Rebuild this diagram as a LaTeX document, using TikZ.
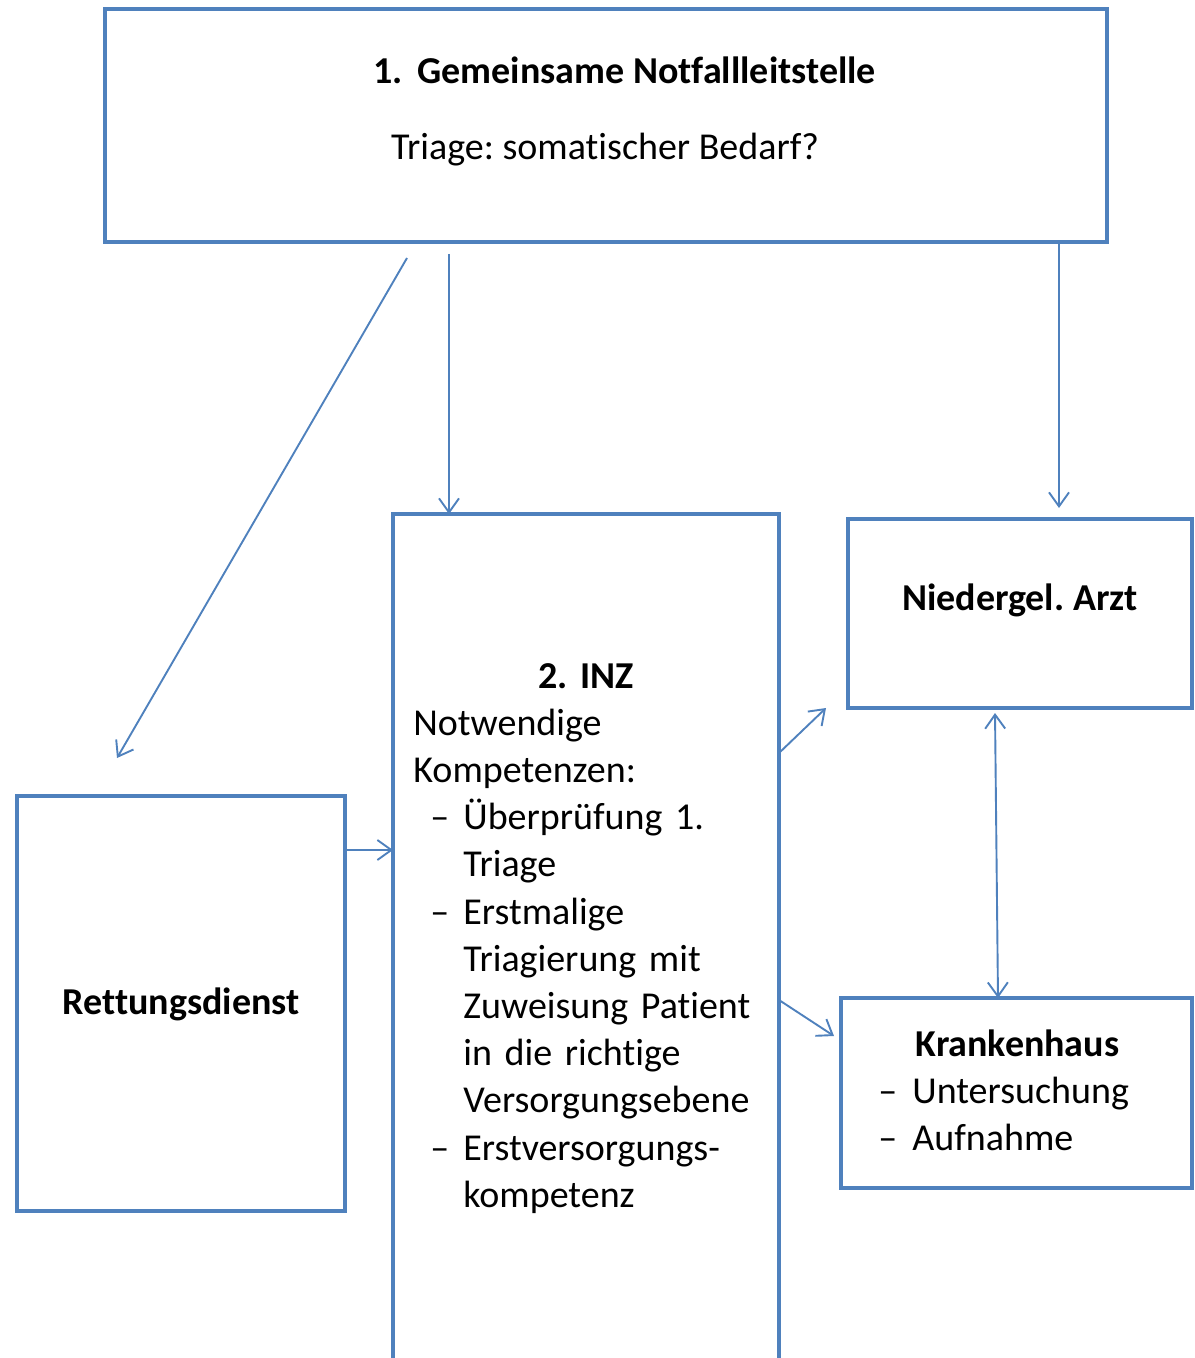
\documentclass[tikz,border=0pt]{standalone}
\usepackage{fontspec}
\setmainfont{Carlito}[RawFeature={-liga;-clig;-calt;-dlig}]
\usetikzlibrary{arrows.meta}
\definecolor{boxblue}{HTML}{4F81BD}
\frenchspacing

\begin{document}
\begin{tikzpicture}[x=0.5pt,y=-0.5pt,
>={Straight Barb[length=7pt,width=10pt]},
box/.style={draw=boxblue,rectangle,line width=2.3pt,inner sep=0pt,outer sep=0pt},
conn/.style={draw=boxblue,line width=0.95pt,->},
txt/.style={font=\fontsize{19}{23.6}\selectfont,inner sep=0pt}]
\useasboundingbox (0,0) rectangle (1194,1358);

% boxes
\node (leit) [box,minimum width=501pt,minimum height=116.5pt] at (606,125.5) {};
\node (inz) [box,minimum width=193pt,minimum height=428pt] at (586,942) {};
\node (arzt) [box,minimum width=172pt,minimum height=94.5pt] at (1020,613.5) {};
\node (kh) [box,minimum width=175.5pt,minimum height=95pt] at (1016.5,1093) {};
\node (rett) [box,minimum width=164pt,minimum height=207.5pt] at (181,1003.5) {};

% texts
\node (leittitle) [txt,anchor=base west] at (373,84)
    {\textbf{\makebox[22pt][l]{1.}Gemeinsame Notfallleitstelle}};
\node (leittriage) [txt,anchor=base] at (605,160) {Triage: somatischer Bedarf?};
\node (arzttext) [txt,anchor=base] at (1020,610) {\textbf{Niedergel. Arzt}};
\node (retttext) [txt,anchor=base] at (181,1014) {\textbf{Rettungsdienst}};
\node (inztext) [txt,anchor=base west,text width=173pt,align=left] at (413,688) {%
    \makebox[\linewidth]{\textbf{2. INZ}}\\
    Notwendige\\
    Kompetenzen:\\
    \hspace*{8.5pt}\makebox[16.5pt][l]{–}Überprüfung 1.\\
    \hspace*{25pt}Triage\\
    \hspace*{8.5pt}\makebox[16.5pt][l]{–}Erstmalige\\
    \hspace*{25pt}Triagierung mit\\
    \hspace*{25pt}Zuweisung Patient\\
    \hspace*{25pt}in die richtige\\
    \hspace*{25pt}Versorgungsebene\\
    \hspace*{8.5pt}\makebox[16.5pt][l]{–}Erstversorgungs-\\
    \hspace*{25pt}kompetenz};
\node (khtext) [txt,anchor=base west,text width=147pt,align=left] at (870,1056) {%
    \makebox[\linewidth]{\textbf{Krankenhaus}}\\
    \hspace*{4pt}\makebox[17pt][l]{–}Untersuchung\\
    \hspace*{4pt}\makebox[17pt][l]{–}Aufnahme};

% connectors
\draw[conn] ([xshift=151pt,yshift=-8pt]leit.south west) -- ([xshift=50pt,yshift=19pt]rett.north west);
\draw[conn] ([xshift=172pt,yshift=-6pt]leit.south west) -- ([xshift=28pt]inz.north west);
\draw[conn] ([xshift=477pt]leit.south west) -- ([xshift=105.5pt,yshift=5.5pt]arzt.north west);
\draw[conn] ([yshift=-27pt]rett.north east) -- ([yshift=-168pt]inz.north west);
\draw[conn] ([yshift=-119.5pt]inz.north east) -- ([xshift=-11pt]arzt.south west);
\draw[conn] ([yshift=-243pt]inz.north east) -- ([xshift=-3.5pt,yshift=-19pt]kh.north west);
\draw[conn,<->] ([xshift=73.5pt,yshift=-2.5pt]arzt.south west) -- ([xshift=78.5pt]kh.north west);

\end{tikzpicture}
\end{document}
